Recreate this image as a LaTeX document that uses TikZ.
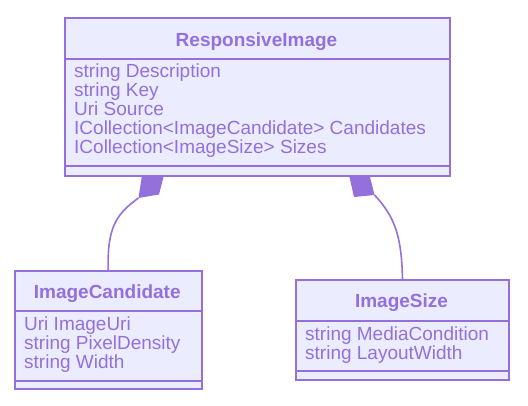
\documentclass[tikz,border=0pt]{standalone}
\usepackage{fontspec}
\setmainfont{Liberation Sans}
\usepackage{tikz}
\usetikzlibrary{positioning}
\definecolor{umlline}{HTML}{9370DB}
\definecolor{umlfill}{HTML}{ECECFF}
\tikzset{class box/.style={rectangle,draw=umlline,fill=umlfill,line width=2pt,inner sep=0pt,anchor=north west},}
\tikzstyle{divider} = [draw=umlline,line width=2pt]
\tikzstyle{title} = [text=umlline,font=\fontsize{19}{19}\selectfont\bfseries,inner sep=0pt,anchor=base]
\tikzstyle{member} = [text=umlline,font=\fontsize{19}{19}\selectfont,inner sep=0pt,anchor=base west]
\tikzstyle{relation} = [draw=umlline,line width=1.6pt]
\tikzstyle{diamond tip} = [fill=umlline]

\begin{document}
\begin{tikzpicture}[x=1pt,y=-1pt]
                    \useasboundingbox (0,0) rectangle (528,405);
                    % composition links
                    \coordinate (candtip) at (138.5,198);
                    \coordinate (sizetip) at (374.5,195);
                    \fill[diamond tip] (142,175) -- (164,175) -- (159,194.5) -- (candtip) -- cycle;
                    \fill[diamond tip] (349,175) -- (369.5,175) -- (sizetip) -- (354,197) -- cycle;
                    % classes
                    \node[class box, minimum width=385pt, minimum height=158pt] (resp) at (64,17) {};
                    \node[class box, minimum width=187.5pt, minimum height=118pt] (cand) at (13.5,270) {};
                    \node[class box, minimum width=213pt, minimum height=100pt] (size) at (295,279) {};
                    \draw[relation] (cand.north) .. controls (107,228) and (116,214) .. (candtip);
                    \draw[relation] (size.north) .. controls (401.5,238) and (396,218) .. (sizetip);
                    \draw[divider] (resp.west |- 0,59) -- (resp.east |- 0,59);
                    \draw[divider] (resp.west |- 0,166) -- (resp.east |- 0,166);
                    \draw[divider] (cand.west |- 0,311) -- (cand.east |- 0,311);
                    \draw[divider] (cand.west |- 0,381) -- (cand.east |- 0,381);
                    \draw[divider] (size.west |- 0,321) -- (size.east |- 0,321);
                    \draw[divider] (size.west |- 0,371) -- (size.east |- 0,371);
                    % ResponsiveImage
                    \node[title] (resptitle) at (256.5,46.5) {ResponsiveImage};
                    \node[member] (respdesc) at (74,77.5) {string Description};
                    \node[member] (respkey) at (74,96.5) {string Key};
                    \node[member] (respsrc) at (74,115.5) {Uri Source};
                    \node[member] (respcand) at (74,134.5) {ICollection<ImageCandidate> Candidates};
                    \node[member] (respsizes) at (74,153.5) {ICollection<ImageSize> Sizes};
                    % ImageCandidate
                    \node[title] (candtitle) at (107.25,298.5) {ImageCandidate};
                    \node[member] (canduri) at (24,330) {Uri ImageUri};
                    \node[member] (canddens) at (24,349) {string PixelDensity};
                    \node[member] (candwidth) at (24,368) {string Width};
                    % ImageSize
                    \node[title] (sizetitle) at (401.5,307.5) {ImageSize};
                    \node[member] (sizecond) at (305,340.5) {string MediaCondition};
                    \node[member] (sizewidth) at (305,359.5) {string LayoutWidth};
                \end{tikzpicture}
\end{document}
